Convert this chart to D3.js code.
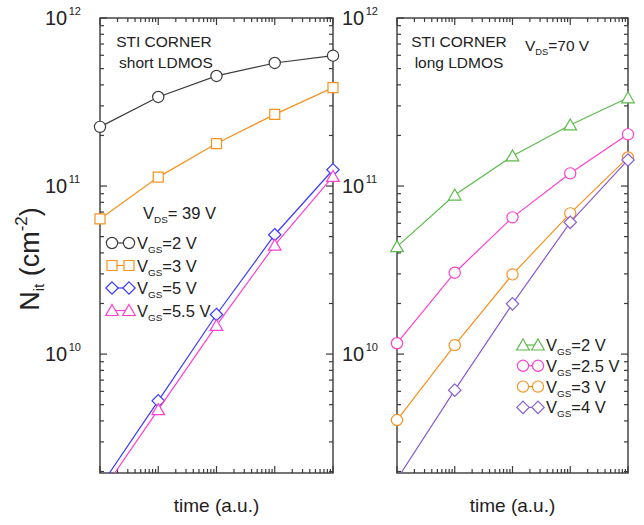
<!DOCTYPE html>
<html>
<head>
<meta charset="utf-8">
<script src="https://cdn.jsdelivr.net/npm/d3@7"></script>
<style>
body { margin: 0; background: #fff; }
svg { display: block; }
text { font-family: "Liberation Sans", Arial, sans-serif; fill: #222; }
</style>
</head>
<body>
<div id="chart"></div>
<script>
var width = 644;
var height = 525;

// time in arbitrary units (one point per decade)
var time = [1, 10, 100, 1000, 10000];

// short LDMOS, VDS = 39 V
var shortVgs2 = [2.25e11, 3.39e11, 4.52e11, 5.40e11, 5.97e11];
var shortVgs3 = [6.37e10, 1.13e11, 1.79e11, 2.67e11, 3.85e11];
var shortVgs5 = [1.62e9, 5.27e9, 1.72e10, 5.13e10, 1.25e11];
var shortVgs55 = [1.46e9, 4.67e9, 1.48e10, 4.45e10, 1.14e11];

// long LDMOS, VDS = 70 V
var longVgs2 = [4.36e10, 8.84e10, 1.51e11, 2.31e11, 3.35e11];
var longVgs25 = [1.16e10, 3.05e10, 6.51e10, 1.19e11, 2.03e11];
var longVgs3 = [4.05e9, 1.13e10, 2.98e10, 6.88e10, 1.48e11];
var longVgs4 = [1.80e9, 6.10e9, 1.99e10, 6.08e10, 1.43e11];

var shortLabels = ["2", "3", "5", "5.5"];
var longLabels = ["2", "2.5", "3", "4"];

var yMin = 1.96e9, yMax = 1e12;
var plotTop = 18, plotBottom = 473;

var svg = d3.select("#chart").append("svg")
  .attr("width", width).attr("height", height);

var y = d3.scaleLog().domain([yMin, yMax]).range([plotBottom, plotTop]);

function isMajor(v) {
  var l = Math.log10(v);
  return Math.abs(l - Math.round(l)) < 1e-9;
}

function markerPath(type) {
  var p = d3.path();
  if (type == "square") {
    p.rect(-5, -5, 10, 10);
  } else if (type == "diamond") {
    p.moveTo(0, -6.2); p.lineTo(6.2, 0); p.lineTo(0, 6.2); p.lineTo(-6.2, 0); p.closePath();
  } else if (type == "triangle") {
    p.moveTo(0, -6); p.lineTo(6.3, 5); p.lineTo(-6.3, 5); p.closePath();
  }
  return p.toString();
}

function drawMarker(g, type, cx, cy, color) {
  if (type == "circle") {
    g.append("circle").attr("cx", cx).attr("cy", cy).attr("r", 5.6)
      .attr("fill", "#fff").attr("stroke", color).attr("stroke-width", 1.2);
  } else {
    g.append("path").attr("d", markerPath(type))
      .attr("transform", "translate(" + cx + "," + cy + ")")
      .attr("fill", "#fff").attr("stroke", color).attr("stroke-width", 1.2);
  }
}

// text like "V_GS=2 V" with subscript
function subText(g, tx, ty, main, sub, rest, size) {
  var t = g.append("text").attr("x", tx).attr("y", ty)
    .attr("font-size", size);
  t.append("tspan").text(main);
  t.append("tspan").attr("font-size", size * 0.6).attr("dy", 4).text(sub);
  t.append("tspan").attr("dy", -4).text(rest);
  return t;
}

function drawPanel(id, x0, x1, series, legend) {
  var x = d3.scaleLog().domain([1, 1e4]).range([x0, x1]);
  var g = svg.append("g");

  g.append("clipPath").attr("id", "clip" + id)
    .append("rect").attr("x", x0 - 20).attr("y", plotTop)
    .attr("width", x1 - x0 + 40).attr("height", plotBottom - plotTop);

  var line = d3.line()
    .x(function (d) { return x(d[0]); })
    .y(function (d) { return y(d[1]); });

  // ticks, pointing inward on all four sides
  var xt = x.ticks();
  var yt = y.ticks();
  var axisColor = "#3a3a3a";
  var tk = g.append("g").attr("stroke", axisColor).attr("stroke-width", 1.2);
  xt.forEach(function (v) {
    var len = isMajor(v) ? 7 : 4;
    tk.append("line").attr("x1", x(v)).attr("x2", x(v)).attr("y1", plotBottom).attr("y2", plotBottom - len);
    tk.append("line").attr("x1", x(v)).attr("x2", x(v)).attr("y1", plotTop).attr("y2", plotTop + len);
  });
  yt.forEach(function (v) {
    var len = isMajor(v) ? 7 : 4;
    tk.append("line").attr("x1", x0).attr("x2", x0 + len).attr("y1", y(v)).attr("y2", y(v));
    tk.append("line").attr("x1", x1).attr("x2", x1 - len).attr("y1", y(v)).attr("y2", y(v));
  });

  g.append("rect").attr("x", x0).attr("y", plotTop)
    .attr("width", x1 - x0).attr("height", plotBottom - plotTop)
    .attr("fill", "none").attr("stroke", axisColor).attr("stroke-width", 1.4);

  series.forEach(function (s) {
    var pts = time.map(function (t, i) { return [t, s.values[i]]; });
    g.append("path")
      .attr("d", line(pts))
      .attr("clip-path", "url(#clip" + id + ")")
      .attr("fill", "none")
      .attr("stroke", s.color)
      .attr("stroke-width", 1.2);
    pts.forEach(function (d) {
      if (d[1] >= yMin * 1.04) drawMarker(g, s.marker, x(d[0]), y(d[1]), s.color);
    });
  });

  // decade labels
  [1e10, 1e11, 1e12].forEach(function (v) {
    var t = g.append("text").attr("x", x0 - 55).attr("y", y(v) + 7)
      .attr("font-size", 20);
    t.append("tspan").text("10");
    t.append("tspan").attr("font-size", 11).attr("dy", -10).attr("dx", 1.5)
      .text(Math.round(Math.log10(v)));
  });

  g.append("text").attr("x", (x0 + x1) / 2).attr("y", 512)
    .attr("text-anchor", "middle").attr("font-size", 19)
    .text("time (a.u.)");

  // legend
  legend.rows.forEach(function (s, i) {
    var ly = legend.y + i * legend.dy;
    g.append("line").attr("x1", legend.mx1).attr("x2", legend.mx2)
      .attr("y1", ly).attr("y2", ly)
      .attr("stroke", s.color).attr("stroke-width", 1.2);
    drawMarker(g, s.marker, legend.mx1, ly, s.color);
    drawMarker(g, s.marker, legend.mx2, ly, s.color);
    subText(g, legend.tx, ly + 6, "V", "GS", "=" + s.label + " V", 16.5);
  });
}

var shortSeries = [
  { values: shortVgs2, color: "#3c3c3c", marker: "circle", label: shortLabels[0] },
  { values: shortVgs3, color: "#f7921e", marker: "square", label: shortLabels[1] },
  { values: shortVgs5, color: "#3c3cff", marker: "diamond", label: shortLabels[2] },
  { values: shortVgs55, color: "#ff40d2", marker: "triangle", label: shortLabels[3] }
];
var longSeries = [
  { values: longVgs2, color: "#5dbb4c", marker: "triangle", label: longLabels[0] },
  { values: longVgs25, color: "#ff40d2", marker: "circle", label: longLabels[1] },
  { values: longVgs3, color: "#f7921e", marker: "circle", label: longLabels[2] },
  { values: longVgs4, color: "#8a5ccf", marker: "diamond", label: longLabels[3] }
];

drawPanel("a", 100, 333, shortSeries,
  { rows: shortSeries, y: 243, dy: 22.5, mx1: 112, mx2: 129, tx: 137 });
drawPanel("b", 397, 628, longSeries,
  { rows: longSeries, y: 345, dy: 20.8, mx1: 523, mx2: 538, tx: 546 });

// panel annotations
svg.append("text").attr("x", 164).attr("y", 47).attr("text-anchor", "middle")
  .attr("font-size", 15.5).text("STI CORNER");
svg.append("text").attr("x", 166).attr("y", 68).attr("text-anchor", "middle")
  .attr("font-size", 15.5).text("short LDMOS");
subText(svg, 143, 219, "V", "DS", "= 39 V", 16.5);

svg.append("text").attr("x", 459).attr("y", 47).attr("text-anchor", "middle")
  .attr("font-size", 15.5).text("STI CORNER");
svg.append("text").attr("x", 459).attr("y", 68).attr("text-anchor", "middle")
  .attr("font-size", 15.5).text("long LDMOS");
subText(svg, 525, 51, "V", "DS", "=70 V", 15.5);

// y axis title
var ytitle = svg.append("text")
  .attr("transform", "translate(39,259) rotate(-90)")
  .attr("text-anchor", "middle").attr("font-size", 27);
ytitle.append("tspan").text("N");
ytitle.append("tspan").attr("font-size", 15).attr("dy", 5).text("it");
ytitle.append("tspan").attr("dy", -5).text(" (cm");
ytitle.append("tspan").attr("font-size", 17).attr("dy", -12).text("-2");
ytitle.append("tspan").attr("dy", 12).text(")");
</script>
</body>
</html>
